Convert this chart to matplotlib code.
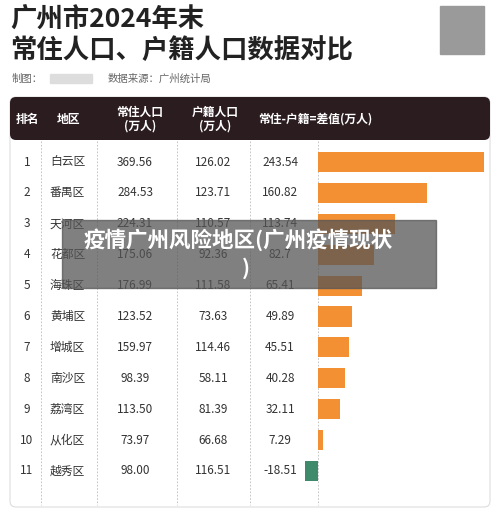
import numpy as np
import matplotlib.pyplot as plt
from matplotlib.patches import Rectangle, FancyBboxPatch

plt.rcParams['font.family'] = ['Noto Sans CJK SC', 'DejaVu Sans']

# ---- data ----
ranks = list(range(1, 12))
districts = ["白云区", "番禺区", "天河区", "花都区", "海珠区", "黄埔区",
             "增城区", "南沙区", "荔湾区", "从化区", "越秀区"]
resident = [369.56, 284.53, 224.31, 175.06, 176.99, 123.52, 159.97, 98.39, 113.50, 73.97, 98.00]
registered = [126.02, 123.71, 110.57, 92.36, 111.58, 73.63, 114.46, 58.11, 81.39, 66.68, 116.51]
diff = [243.54, 160.82, 113.74, 82.7, 65.41, 49.89, 45.51, 40.28, 32.11, 7.29, -18.51]
headers = ["排名", "地区", "常住人口\n(万人)", "户籍人口\n(万人)", "常住-户籍=差值(万人)"]

W, H = 500, 509
fig = plt.figure(figsize=(5.0, 5.09), dpi=100)
ax = fig.add_axes([0, 0, 1, 1])
ax.set_xlim(0, W)
ax.set_ylim(H, 0)
ax.axis('off')

# title
ax.text(10, 20, "广州市2024年末", fontsize=19, fontweight='bold', color='#222222', va='center')
ax.text(10, 50, "常住人口、户籍人口数据对比", fontsize=19, fontweight='bold', color='#222222', va='center')
ax.text(12, 79, "制图：", fontsize=7.5, color='#666666', va='center')
ax.add_patch(Rectangle((50, 74), 42, 9, color='#dddddd'))
ax.text(108, 79, "数据来源：广州统计局", fontsize=7.5, color='#666666', va='center')
ax.add_patch(Rectangle((440, 6), 44, 48, color='#9a9a9a'))

# table panel
ax.add_patch(FancyBboxPatch((10, 97), 480, 410, boxstyle="round,pad=0,rounding_size=6",
                            facecolor='white', edgecolor='#dddddd', lw=0.8))
ax.add_patch(FancyBboxPatch((10, 97), 480, 43, boxstyle="round,pad=0,rounding_size=6",
                            facecolor='#2b1c20', edgecolor='none'))
hx = [27, 57, 140, 215, 258]
for i, (x, t) in enumerate(zip(hx, headers)):
    ha = 'left' if i in (1, 4) else 'center'
    ax.text(x, 119, t, fontsize=8.5, color='white', fontweight='bold',
            ha=ha, va='center', linespacing=1.1)

row0, dy = 162, 30.9
for i in range(len(ranks)):
    y = row0 + i * dy
    if i % 2 == 0:
        ax.add_patch(Rectangle((12, y - dy / 2), 476, dy, color='#efefef', zorder=0))
    ax.text(27, y, str(ranks[i]), fontsize=8.5, ha='center', va='center', color='#333333')
    ax.text(50, y, districts[i], fontsize=8.5, ha='left', va='center', color='#333333')
    ax.text(135, y, f"{resident[i]:.2f}", fontsize=8.5, ha='center', va='center', color='#333333')
    ax.text(213, y, f"{registered[i]:.2f}", fontsize=8.5, ha='center', va='center', color='#333333')
    ax.text(280, y, f"{diff[i]:g}" if i == 3 else f"{diff[i]:.2f}", fontsize=8.5,
            ha='center', va='center', color='#333333')
for x in [41, 97, 177, 250, 318]:
    ax.plot([x, x], [141, 505], ls=(0, (2, 2)), color='#bbbbbb', lw=0.6)

# bars in inset axes
bx0, bx1 = 300, 490
scale = 0.68
bax = fig.add_axes([bx0 / W, 1 - (row0 + 10.5 * dy) / H, (bx1 - bx0) / W, 11 * dy / H])
bax.set_xlim(-(318 - bx0) / scale, (bx1 - 318) / scale)
bax.set_ylim(len(ranks) - 0.5, -0.5)
bax.axis('off')
cols = ['#f39033' if d >= 0 else '#3f8a6a' for d in diff]
bax.barh(np.arange(len(diff)), diff, height=0.65, color=cols)

# overlay banner on top of everything
oax = fig.add_axes([0, 0, 1, 1])
oax.set_xlim(0, W)
oax.set_ylim(H, 0)
oax.axis('off')
oax.add_patch(Rectangle((62, 220), 374, 68, color='#555555', alpha=0.75))
oax.text(238, 240, "疫情广州风险地区(广州疫情现状", fontsize=15.5, fontweight='bold',
         color='white', ha='center', va='center')
oax.text(246, 268, ")", fontsize=15.5, fontweight='bold', color='white',
         ha='center', va='center')

fig.savefig("out.png", dpi=100)
